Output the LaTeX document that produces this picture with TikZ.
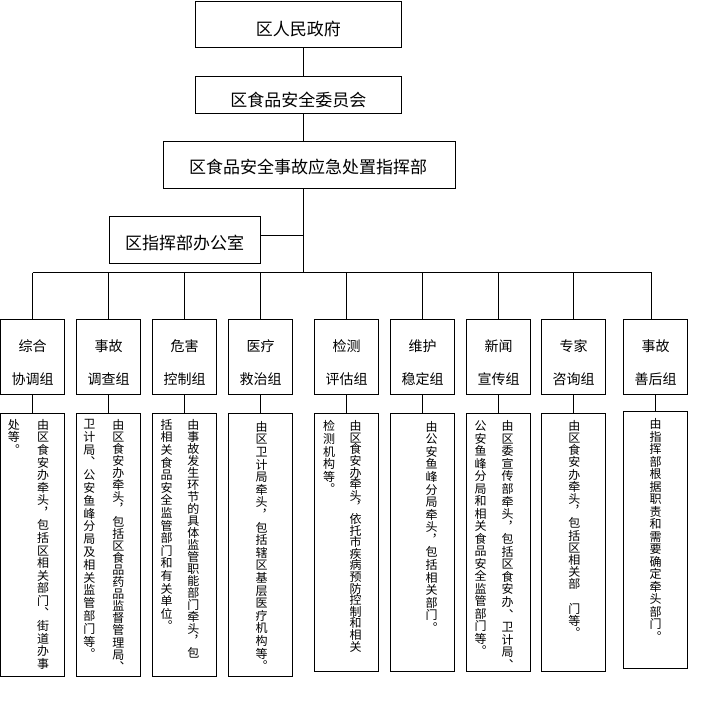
\documentclass[tikz,border=0pt]{standalone}
\usepackage{fontspec}
\setmainfont{Noto Sans CJK SC}
\makeatletter
\newcommand\vcol[2][12.6pt]{\vbox{\baselineskip=#1\lineskiplimit=-100pt\lineskip=0pt\@tfor\vc:=#2\do{\hbox to 12pt{\hss\vc\hss}}}}
\makeatother
\begin{document}
\begin{tikzpicture}[x=1pt,y=-1pt,
  link/.style={line width=1pt},
  hbox/.style={draw,line width=1pt,inner sep=0pt},
  htext/.style={inner sep=0pt,font=\fontsize{17pt}{20pt}\selectfont},
  gbox/.style={draw,line width=1pt,inner sep=0pt,minimum width=64pt,minimum height=75pt},
  gtext/.style={inner sep=0pt,align=center,font=\fontsize{14pt}{32.7pt}\selectfont},
  dbox/.style={draw,line width=1pt,inner sep=0pt,minimum width=64pt},
  vtext/.style={inner sep=0pt,anchor=north,font=\fontsize{12pt}{12pt}\selectfont}]
\useasboundingbox (0,0) rectangle (700,708);
% header boxes
\node[hbox,minimum width=206pt,minimum height=46pt] (gov) at (298.5,24.5) {};
\node[htext] (govt) at (298.3,29.3) {区人民政府};
\node[hbox,minimum width=206pt,minimum height=37pt] (com) at (298.5,95) {};
\node[htext] (comt) at (298.3,100) {区食品安全委员会};
\node[hbox,minimum width=292pt,minimum height=47pt] (cmd) at (309.5,165) {};
\node[htext] (cmdt) at (308.2,166.7) {区食品安全事故应急处置指挥部};
\node[hbox,minimum width=151pt,minimum height=47pt] (off) at (185,240) {};
\node[htext] (offt) at (184.7,243.3) {区指挥部办公室};
% spine and bus
\coordinate (spine) at (303.5,272.5);
\coordinate (busL) at (32.5,272.5);
\coordinate (busR) at (651.5,272.5);
\draw[link] (gov.south -| spine) -- (com.north -| spine);
\draw[link] (com.south -| spine) -- (cmd.north -| spine);
\draw[link] (cmd.south -| spine) -- (spine);
\draw[link] ([yshift=4.5pt]off.east) -- ([yshift=4.5pt]off.east -| spine);
\draw[link] (busL) -- (busR);
% group boxes
\foreach \i/\x/\a/\b in {1/32.5/综合/协调组,2/108.5/事故/调查组,3/184.5/危害/控制组,4/260.5/医疗/救治组,5/346.5/检测/评估组,6/422.5/维护/稳定组,7/498.5/新闻/宣传组,8/573.5/专家/咨询组,9/655.5/事故/善后组}{
  \node[gbox] (g\i) at (\x,357) {};
  \node[gtext] (g\i t) at (\x,362.4) {\a\\\b};
}
\foreach \i in {1,...,8}{\draw[link] (g\i.north |- busL) -- (g\i.north);}
\draw[link] (busR) -- (busR |- g9.north);
% duty boxes
\foreach \i/\x in {1/32.5,2/108.5,3/184.5,4/260.5}{\node[dbox,minimum height=263pt] (d\i) at (\x,545) {};}
\foreach \i/\x in {5/346.5,6/422.5,7/498.5,8/573.5}{\node[dbox,minimum height=258pt] (d\i) at (\x,542.5) {};}
\node[dbox,minimum height=257pt] (d9) at (655.5,540) {};
\foreach \i in {1,...,9}{\draw[link] (g\i) -- (d\i);}
% vertical texts
\node[vtext] (d1a) at (43,419) {\vcol[12.58pt]{由区食安办牵头︐包括区相关部门︑街道办事}};
\node[vtext] (d1b) at (14,419) {\vcol{处等︒}};
\node[vtext] (d2a) at (118.3,419) {\vcol[12.1pt]{由区食安办牵头︐包括区食品药品监督管理局︑}};
\node[vtext] (d2b) at (89.3,419) {\vcol[12.8pt]{卫计局︑公安鱼峰分局及相关监管部门等︒}};
\node[vtext] (d3a) at (193.3,419) {\vcol[12.0pt]{由事故发生环节的具体监管职能部门牵头︐包}};
\node[vtext] (d3b) at (166.7,419) {\vcol[12.6pt]{括相关食品安全监管部门和有关单位︒}};
\node[vtext] (d4a) at (261.7,421) {\vcol[12.6pt]{由区卫计局牵头︐包括辖区基层医疗机构等︒}};
\node[vtext] (d5a) at (355.7,420.5) {\vcol[11.6pt]{由区食安办牵头︐依托市疾病预防控制和相关}};
\node[vtext] (d5b) at (329,420.5) {\vcol[12.6pt]{检测机构等︒}};
\node[vtext] (d6a) at (431.7,421) {\vcol[12.56pt]{由公安鱼峰分局牵头︐包括相关部门︒}};
\node[vtext] (d7a) at (507.7,420.5) {\vcol[12.55pt]{由区委宣传部牵头︐包括区食安办︑卫计局︑}};
\node[vtext] (d7b) at (480.7,420.5) {\vcol[12.5pt]{公安鱼峰分局和相关食品安全监管部门等︒}};
\node[vtext] (d8a) at (574.3,420) {\vcol[12.2pt]{由区食安办牵头︐包括区相关部~门等︒}};
\node[vtext] (d9a) at (655.7,418.3) {\vcol[12.5pt]{由指挥部根据职责和需要确定牵头部门︒}};
\end{tikzpicture}
\end{document}
